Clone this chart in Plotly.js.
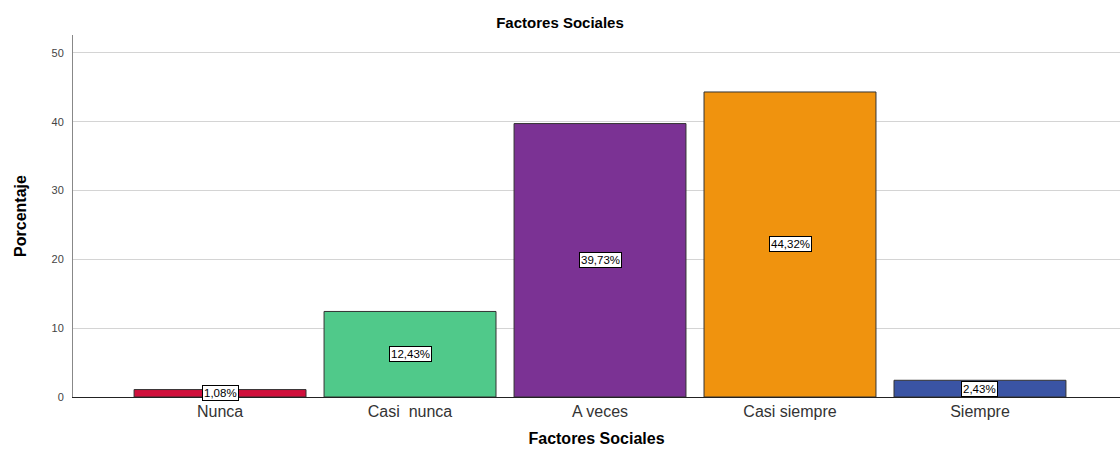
<!DOCTYPE html>
<html>
<head>
<meta charset="utf-8">
<script src="https://cdn.plot.ly/plotly-3.0.1.min.js"></script>
<style>html,body{margin:0;padding:0;background:#fff;}#chart{width:1120px;height:449px;}</style>
</head>
<body>
<div id="chart"></div>
<script>
const categories = ["Nunca", "Casi  nunca", "A veces", "Casi siempre", "Siempre"];
const values = [1.08, 12.43, 39.73, 44.32, 2.43];
const labels = ["1,08%", "12,43%", "39,73%", "44,32%", "2,43%"];
const colors = ["#d0103c", "#50c98a", "#7b3294", "#f0930e", "#3a54a4"];
const yTicks = [0, 10, 20, 30, 40, 50];

const trace = {
  type: "bar",
  x: categories,
  y: values,
  width: 0.905,
  marker: { color: colors, line: { color: "#333333", width: 1 } },
  hoverinfo: "none"
};

const annotations = categories.map((c, i) => ({
  x: c, y: values[i] / 2, xref: "x", yref: "y",
  text: labels[i], showarrow: false,
  font: { family: "Arial, Liberation Sans, sans-serif", size: 11.5, color: "#000" },
  bgcolor: "#ffffff", bordercolor: "#000000", borderwidth: 1, borderpad: 1
}));

const layout = {
  width: 1120, height: 449,
  margin: { l: 73, r: 0, t: 35, b: 52 },
  paper_bgcolor: "#ffffff", plot_bgcolor: "#ffffff",
  showlegend: false,
  title: { text: "<b>Factores Sociales</b>", x: 0.5, xanchor: "center", y: 0.949, yanchor: "middle",
           font: { family: "Arial, Liberation Sans, sans-serif", size: 15, color: "#000" } },
  xaxis: {
    type: "category",
    range: [-0.774, 4.737],
    showgrid: false,
    showline: true, linecolor: "#222", linewidth: 1,
    ticks: "",
    tickfont: { family: "Arial, Liberation Sans, sans-serif", size: 16, color: "#333" },
    title: { text: "<b>Factores Sociales</b>", standoff: 13,
             font: { family: "Arial, Liberation Sans, sans-serif", size: 16, color: "#000" } }
  },
  yaxis: {
    range: [0, 52.6],
    tickvals: yTicks,
    showgrid: true, gridcolor: "#d4d4d4", gridwidth: 1,
    showline: true, linecolor: "#888", linewidth: 1,
    zeroline: false,
    ticks: "", ticklabelstandoff: 6,
    tickfont: { family: "Arial, Liberation Sans, sans-serif", size: 11, color: "#444" },
    title: { text: "<b>Porcentaje</b>", standoff: 20,
             font: { family: "Liberation Sans Narrow, Arial Narrow, Arial, sans-serif", size: 16, color: "#000" } }
  },
  annotations: annotations
};

Plotly.newPlot("chart", [trace], layout, { displayModeBar: false, staticPlot: true });
</script>
</body>
</html>
